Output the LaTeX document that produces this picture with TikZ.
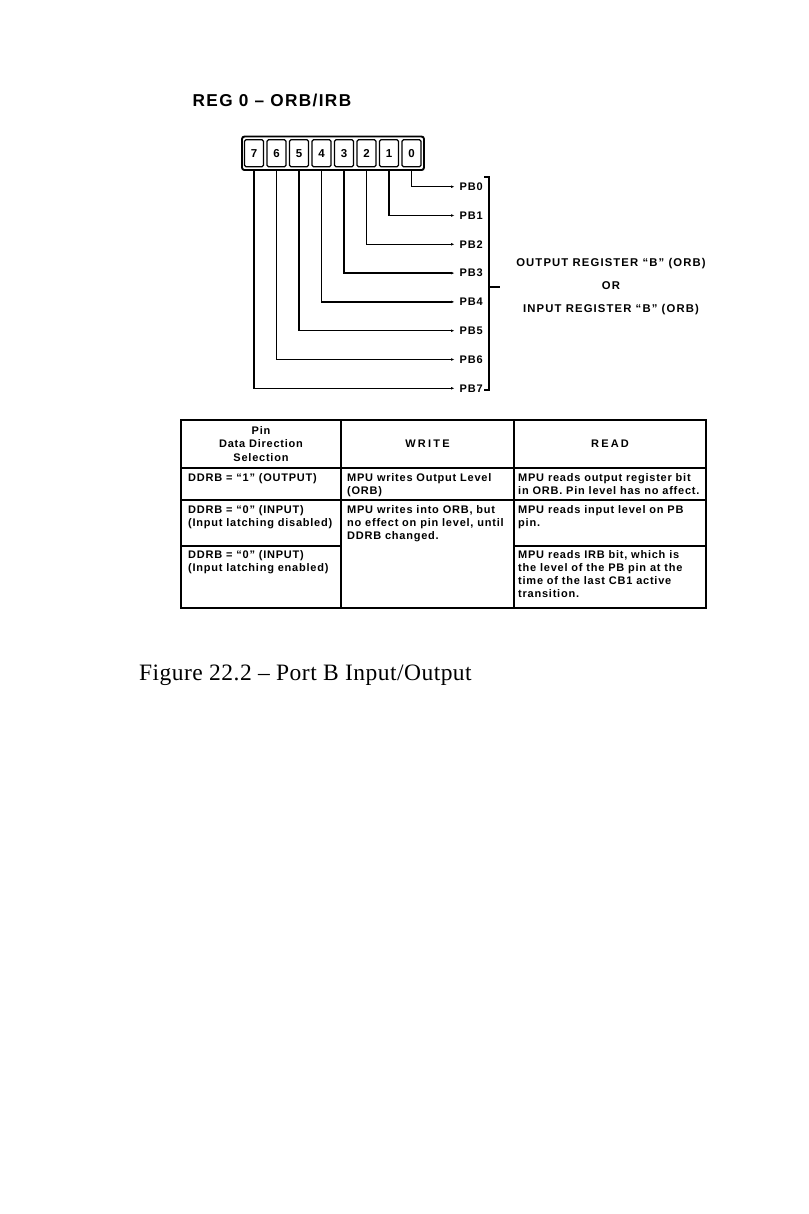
\documentclass[tikz,border=0pt]{standalone}
\usepackage{fontspec}
\setmainfont{Liberation Sans}
\newfontfamily\serifcap{Liberation Serif}[LetterSpace=2,Ligatures=TeX]
\newfontfamily\gothic{Liberation Sans}[LetterSpace=7,Ligatures=TeX]
\newfontfamily\gothicwide{Liberation Sans}[LetterSpace=10,Ligatures=TeX]
\newfontfamily\gothictitle{Liberation Sans}[LetterSpace=8,Ligatures=TeX]
\usetikzlibrary{arrows.meta}
\begin{document}
\begin{tikzpicture}[x=1pt,y=-1pt,
  regbox/.style={draw, line width=1.9pt, rounded corners=2.5pt, minimum width=182pt, minimum height=33.5pt, inner sep=0pt},
  cellbox/.style={draw, line width=1.3pt, rounded corners=1.5pt, minimum width=19pt, minimum height=27pt, inner sep=0pt, font=\gothic\bfseries\fontsize{11.5}{12}\selectfont},
  wire/.style={line width=1.5pt, -{Latex[length=3.5pt,width=2.8pt]}},
  pinlab/.style={anchor=west, inner sep=0pt, font=\gothic\bfseries\fontsize{11}{12}\selectfont},
  bracket/.style={line width=1.6pt},
  tline/.style={line width=1.7pt},
  ttext/.style={anchor=north west, inner sep=0pt, align=left, font=\gothic\bfseries\fontsize{11}{13.2}\selectfont},
  thead/.style={inner sep=0pt, align=center, font=\gothic\bfseries\fontsize{11}{13.3}\selectfont},
]
\useasboundingbox (0,0) rectangle (808,1214);

% title
\node[anchor=west, inner sep=0pt, font=\gothictitle\bfseries\fontsize{17.2}{20}\selectfont] (title) at (192.5,100) {REG 0 – ORB/IRB};

% register
\node[regbox] (reg) at (333,153.3) {};
\foreach \b/\x in {7/254,6/276.5,5/299,4/321.5,3/344,2/366.5,1/389,0/411.5}
  \node[cellbox] (c\b) at (\x,153.3) {\b};

% pin labels and wires
\foreach \b in {0,...,7}{
  \node[pinlab] (pb\b) at (459.5,186.7+28.8*\b) {PB\b};
  \draw[wire] (c\b.center |- reg.south) |- ([xshift=-5pt]pb\b.west);
}

% bracket
\coordinate (bt) at (489,177);
\coordinate (bb) at (489,390);
\coordinate (bm) at (489,287);
\draw[bracket] ([xshift=-5pt]bt) -- (bt) -- (bb) -- ([xshift=-5pt]bb);
\draw[bracket] (bm) -- ++(11,0);

\node[align=center, inner sep=0pt, font=\gothicwide\bfseries\fontsize{11.3}{23}\selectfont] (rtext) at (611,287)
  {OUTPUT REGISTER “B” (ORB)\\OR\\INPUT REGISTER “B” (ORB)};

% table
\draw[tline] (181,420) rectangle (706,608);
\draw[tline] (341,420) -- (341,608);
\draw[tline] (514,420) -- (514,608);
\draw[tline] (181,468) -- (706,468);
\draw[tline] (181,500) -- (706,500);
\draw[tline] (181,546) -- (341,546);
\draw[tline] (514,546) -- (706,546);

\node[thead] (h1) at (261,444) {Pin\\Data Direction\\Selection};
\node[thead] (h2) at (427.5,444) {\addfontfeatures{LetterSpace=20}WRITE};
\node[thead] (h3) at (610,444) {\addfontfeatures{LetterSpace=20}READ};

\node[ttext] (r1a) at (188,473.5) {DDRB = “1” (OUTPUT)};
\node[ttext] (r1b) at (347,473.5) {MPU writes Output Level\\(ORB)};
\node[ttext] (r1c) at (518,473.5) {MPU reads output register bit\\in ORB. Pin level has no affect.};

\node[ttext] (r2a) at (188,505) {DDRB = “0” (INPUT)\\(Input latching disabled)};
\node[ttext] (r2b) at (347,505) {MPU writes into ORB, but\\no effect on pin level, until\\DDRB changed.};
\node[ttext] (r2c) at (518,505) {MPU reads input level on PB\\pin.};

\node[ttext] (r3a) at (188,550) {DDRB = “0” (INPUT)\\(Input latching enabled)};
\node[ttext] (r3c) at (518,550) {MPU reads IRB bit, which is\\the level of the PB pin at the\\time of the last CB1 active\\transition.};

% caption
\node[anchor=west, inner sep=0pt, font=\serifcap\fontsize{23.5}{26}\selectfont] (cap) at (139,675) {Figure 22.2 – Port B Input/Output};
\end{tikzpicture}
\end{document}
